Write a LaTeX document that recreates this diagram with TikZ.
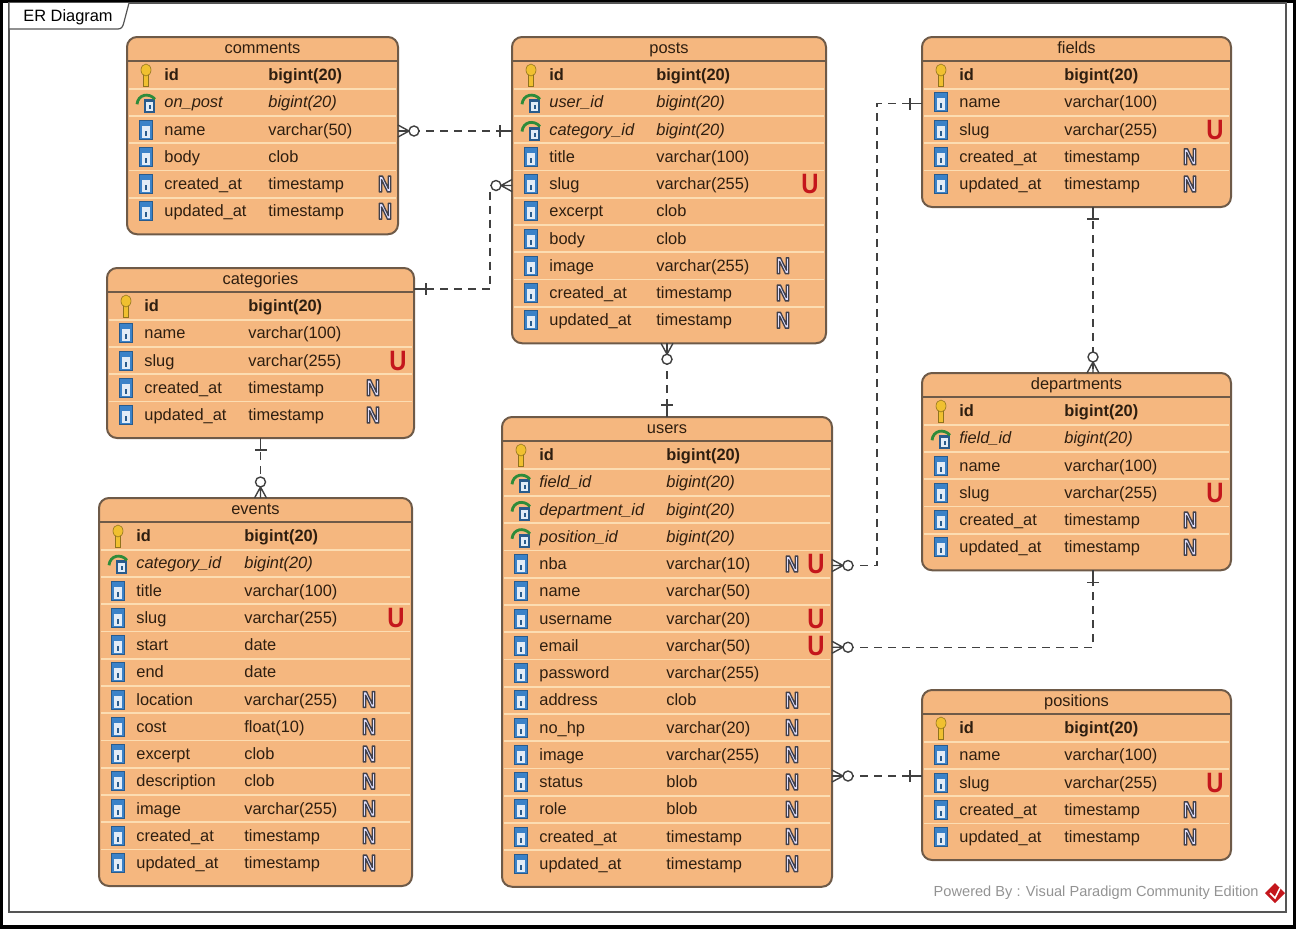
\documentclass[tikz,border=0pt]{standalone}
\usepackage{fontspec}
\setmainfont{Liberation Sans}
\usepackage{graphicx}
\usepackage{xcolor}
\usepackage{tikz}

\definecolor{tblfill}{HTML}{F5B77F}
\definecolor{tblline}{HTML}{6E5A48}
\definecolor{tblsep}{HTML}{FCDDB2}
\definecolor{txtdark}{HTML}{2E1E10}
\definecolor{relgray}{HTML}{404040}
\definecolor{colblue}{HTML}{3B82C8}
\definecolor{keygold}{HTML}{F0C030}
\definecolor{fkgreen}{HTML}{2E8B3A}
\definecolor{ured}{HTML}{C4161C}
\definecolor{framegray}{HTML}{555555}

\newcommand{\pxu}{0.5pt}
\newcommand{\fldpk}{\bfseries}
\newcommand{\fldfk}{\itshape}
\newcommand{\fldcol}{}
% white letter with a dark outline
\newcommand{\outlined}[1]{\special{pdf:literal direct 0.25 0.25 0.3 RG 0.75 w 1 j 2 Tr}#1\special{pdf:literal direct 0 Tr}}

% column icons
\newcommand{\icocol}[1]{%
  \begin{scope}[shift={#1}]
    \fill[colblue!70!black] (-7,-10) rectangle (7,10);
    \fill[colblue] (-6,-9) rectangle (6,9);
    \fill[white!85!colblue] (-4,-4) rectangle (4,8);
    \fill[colblue!70!black] (-1,1) rectangle (1,6);
  \end{scope}}
\newcommand{\icopk}[1]{%
  \begin{scope}[shift={#1}]
    \filldraw[fill=keygold, draw=keygold!60!black, line width=0.3pt] (-2.5,-1) rectangle (2.5,11);
    \filldraw[fill=keygold, draw=keygold!60!black, line width=0.3pt] (0,-5) ellipse [x radius=5, y radius=6];
  \end{scope}}
\newcommand{\icofk}[1]{%
  \begin{scope}[shift={#1}]
    \fill[colblue!70!black] (-2,-3) rectangle (9,11);
    \fill[white!85!colblue] (0,0) rectangle (7,9);
    \fill[colblue!70!black] (2.5,3) rectangle (4.5,7);
    \draw[fkgreen, line width=1.4pt] (-9,2) .. controls (-8,-8) and (3,-10) .. (9,-3);
  \end{scope}}

% #1 name, #2 left, #3 top, #4 width, #5 type column, #6 N column, #7 rows
\newcommand{\ertable}[7]{%
  \foreach \crow [count=\c] in {#7} {\xdef\nrows{\c}}
  \pgfmathsetmacro{\tabh}{61+(\nrows-1)*27.25}
  \node[tbl, anchor=north west, minimum width=#4*\pxu, minimum height=\tabh*\pxu] (#1) at (#2,#3) {};
  \node[cell] (#1-title) at (#2+#4/2,#3+12) {#1};
  \draw[hdline] (#2,#3+24) -- (#2+#4,#3+24);
  \foreach \ckind/\cname/\ctype/\isn/\isu [count=\i] in {#7} {
    \pgfmathsetmacro{\ry}{#3+38+(\i-1)*27.25}
    \ifnum\i>1 \draw[sep] (#2+2,\ry-13.6) -- (#2+#4-2,\ry-13.6);\fi
    \csname ico\ckind\endcsname{(#2+19,\ry)}
    \node[cell, anchor=west] (#1-r\i) at (#2+37,\ry+1.5) {\csname fld\ckind\endcsname \cname};
    \node[cell, anchor=west] (#1-t\i) at (#2+#5,\ry+1.5) {\csname fld\ckind\endcsname \ctype};
    \ifnum\isn=1 \node[nbadge] (#1-n\i) at (#2+#6,\ry) {\outlined{\scalebox{0.85}[1]{N}}};\fi
    \ifnum\isu=1 \node[ubadge] (#1-u\i) at (#2+#4-16,\ry) {\scalebox{0.85}[1]{U}};\fi
  }}

\begin{document}
\begin{tikzpicture}[x=0.5pt, y=-0.5pt,
  tbl/.style={draw=tblline, fill=tblfill, line width=1pt, rounded corners=5pt, outer sep=0pt, inner sep=0pt},
  hdline/.style={draw=tblline, line width=1pt},
  sep/.style={draw=tblsep, line width=0.9pt},
  cell/.style={font=\fontsize{8.2}{9.8}\selectfont, text=txtdark, inner sep=0pt, text height=6pt, text depth=1.8pt},
  nbadge/.style={font=\bfseries\fontsize{11.5}{11.5}\selectfont, text=white!88!blue, inner sep=0pt},
  ubadge/.style={font=\bfseries\fontsize{14}{14}\selectfont, text=ured, inner sep=0pt},
  rel/.style={draw=relgray, line width=0.7pt, dash pattern=on 4pt off 3pt},
  symb/.style={draw=relgray, line width=0.7pt, solid},
  footer/.style={font=\fontsize{7.3}{8}\selectfont, text=gray!85, inner sep=0pt},
  manyzero/.pic={\draw[symb] (0,-6) -- (11,0) -- (0,6) (0,0) -- (11,0);
    \draw[symb, fill=white] (16,0) circle [radius=5];},
  onebar/.pic={\draw[symb] (0,0) -- (12,0) (12,-6) -- (12,6);}]
\useasboundingbox (0,0) rectangle (1296,928);
% frame
\draw[line width=2pt] (1,1) rectangle (1295,927);
\draw[framegray, line width=0.6pt] (9,3) rectangle (1286,912);
\draw[framegray, fill=white, line width=0.6pt] (9,3) -- (9,29) -- (118,29)
  .. controls (122,29) and (123,26) .. (124,22) -- (129,3);
\node[cell, text=black] (diagram) at (68,17) {ER Diagram};

% tables
\ertable{comments}{127}{37}{271}{141}{258}{%
  pk/id/bigint(20)/0/0,%
  fk/on\_post/bigint(20)/0/0,%
  col/name/varchar(50)/0/0,%
  col/body/clob/0/0,%
  col/created\_at/timestamp/1/0,%
  col/updated\_at/timestamp/1/0}
\ertable{posts}{512}{37}{314}{144}{271}{%
  pk/id/bigint(20)/0/0,%
  fk/user\_id/bigint(20)/0/0,%
  fk/category\_id/bigint(20)/0/0,%
  col/title/varchar(100)/0/0,%
  col/slug/varchar(255)/0/1,%
  col/excerpt/clob/0/0,%
  col/body/clob/0/0,%
  col/image/varchar(255)/1/0,%
  col/created\_at/timestamp/1/0,%
  col/updated\_at/timestamp/1/0}
\ertable{fields}{922}{37}{309}{142}{268}{%
  pk/id/bigint(20)/0/0,%
  col/name/varchar(100)/0/0,%
  col/slug/varchar(255)/0/1,%
  col/created\_at/timestamp/1/0,%
  col/updated\_at/timestamp/1/0}
\ertable{categories}{107}{268}{307}{141}{266}{%
  pk/id/bigint(20)/0/0,%
  col/name/varchar(100)/0/0,%
  col/slug/varchar(255)/0/1,%
  col/created\_at/timestamp/1/0,%
  col/updated\_at/timestamp/1/0}
\ertable{events}{99}{498}{313}{145}{270}{%
  pk/id/bigint(20)/0/0,%
  fk/category\_id/bigint(20)/0/0,%
  col/title/varchar(100)/0/0,%
  col/slug/varchar(255)/0/1,%
  col/start/date/0/0,%
  col/end/date/0/0,%
  col/location/varchar(255)/1/0,%
  col/cost/float(10)/1/0,%
  col/excerpt/clob/1/0,%
  col/description/clob/1/0,%
  col/image/varchar(255)/1/0,%
  col/created\_at/timestamp/1/0,%
  col/updated\_at/timestamp/1/0}
\ertable{users}{502}{417}{330}{164}{290}{%
  pk/id/bigint(20)/0/0,%
  fk/field\_id/bigint(20)/0/0,%
  fk/department\_id/bigint(20)/0/0,%
  fk/position\_id/bigint(20)/0/0,%
  col/nba/varchar(10)/1/1,%
  col/name/varchar(50)/0/0,%
  col/username/varchar(20)/0/1,%
  col/email/varchar(50)/0/1,%
  col/password/varchar(255)/0/0,%
  col/address/clob/1/0,%
  col/no\_hp/varchar(20)/1/0,%
  col/image/varchar(255)/1/0,%
  col/status/blob/1/0,%
  col/role/blob/1/0,%
  col/created\_at/timestamp/1/0,%
  col/updated\_at/timestamp/1/0}
\ertable{departments}{922}{373}{309}{142}{268}{%
  pk/id/bigint(20)/0/0,%
  fk/field\_id/bigint(20)/0/0,%
  col/name/varchar(100)/0/0,%
  col/slug/varchar(255)/0/1,%
  col/created\_at/timestamp/1/0,%
  col/updated\_at/timestamp/1/0}
\ertable{positions}{922}{690}{309}{142}{268}{%
  pk/id/bigint(20)/0/0,%
  col/name/varchar(100)/0/0,%
  col/slug/varchar(255)/0/1,%
  col/created\_at/timestamp/1/0,%
  col/updated\_at/timestamp/1/0}

% relations
\draw[rel] (comments.east |- comments-r3) -- (posts.west |- comments-r3);
\pic at (comments.east |- comments-r3) {manyzero};
\pic[rotate=180] at (posts.west |- comments-r3) {onebar};

\coordinate (pcbend) at (490,289);
\draw[rel] (posts.west |- posts-r5) -| (pcbend) -- (categories.east |- pcbend);
\pic[rotate=180] at (posts.west |- posts-r5) {manyzero};
\pic at (categories.east |- pcbend) {onebar};

\draw[rel] (users.north |- posts.south) -- (users.north);
\pic[rotate=-90] at (users.north |- posts.south) {manyzero};
\pic[rotate=90] at (users.north) {onebar};

\coordinate (ufbend) at (877,0);
\draw[rel] (users.east |- users-r5) -| (ufbend |- fields-r2) -- (fields.west |- fields-r2);
\pic at (users.east |- users-r5) {manyzero};
\pic[rotate=180] at (fields.west |- fields-r2) {onebar};

\coordinate (fdbend) at (1093,0);
\draw[rel] (users.east |- users-r8) -| (fdbend |- departments.south);
\pic at (users.east |- users-r8) {manyzero};
\pic[rotate=-90] at (fdbend |- departments.south) {onebar};
\draw[rel] (fdbend |- fields.south) -- (fdbend |- departments.north);
\pic[rotate=-90] at (fdbend |- fields.south) {onebar};
\pic[rotate=90] at (fdbend |- departments.north) {manyzero};

\coordinate (upbend) at (900,776);
\draw[rel] (users.east |- upbend) -- (positions.west |- upbend);
\pic at (users.east |- upbend) {manyzero};
\pic[rotate=180] at (positions.west |- upbend) {onebar};

\draw[rel] (categories.south) -- (categories.south |- events.north);
\pic[rotate=-90] at (categories.south) {onebar};
\pic[rotate=90] at (categories.south |- events.north) {manyzero};

% footer
\node[footer, anchor=east] (powered) at (1259,893) {Powered By : Visual Paradigm Community Edition};
\fill[ured] (1275,883) -- (1285,893) -- (1275,903) -- (1265,893) -- cycle;
\draw[white, line width=0.8pt] (1270,893) -- (1275,898) -- (1280,888);
\end{tikzpicture}
\end{document}
